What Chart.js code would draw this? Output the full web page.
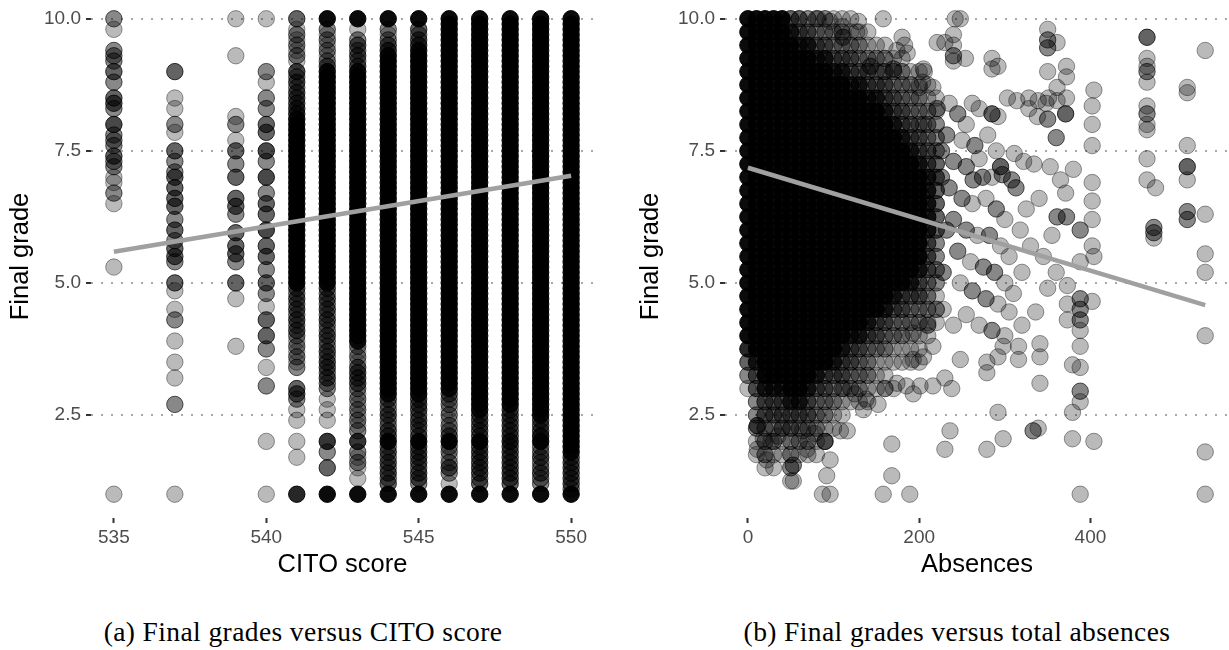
<!DOCTYPE html>
<html>
<head>
<meta charset="utf-8">
<script src="https://cdn.jsdelivr.net/npm/chart.js@4.4.1/dist/chart.umd.min.js"></script>
<style>
  html, body { margin:0; padding:0; background:#fff; width:1229px; height:650px; overflow:hidden; }
  .wrap { position:absolute; }
  .cap { position:absolute; top:618px; width:600px; text-align:center; font-family:'Liberation Serif','Times New Roman',serif; font-size:27.5px; letter-spacing:0.4px; line-height:27px; color:#000; white-space:nowrap; }
</style>
</head>
<body>
<div class="wrap" style="left:0px; top:-5px;"><canvas id="chartA" width="594" height="598"></canvas></div>
<div class="wrap" style="left:630px; top:-5px;"><canvas id="chartB" width="599" height="598"></canvas></div>
<div class="cap" style="left:3px;">(a) Final grades versus CITO score</div>
<div class="cap" style="left:657px;">(b) Final grades versus total absences</div>
<script>
// ---------- shared ----------
const yTicks = [2.5, 5, 7.5, 10];
const citoTicks = [535, 540, 545, 550];
const absTicks = [0, 200, 400];
// grade levels (one decimal) used for the dense CITO columns
const gradeFine = [10.0,9.9,9.8,9.7,9.6,9.5,9.4,9.3,9.2,9.1, 9.0,8.9,8.8,8.7,8.6,8.5,8.4,8.3,8.2,8.1,
  8.0,7.9,7.8,7.7,7.6,7.5,7.4,7.3,7.2,7.1, 7.0,6.9,6.8,6.7,6.6,6.5,6.4,6.3,6.2,6.1,
  6.0,5.9,5.8,5.7,5.6,5.5,5.4,5.3,5.2,5.1, 5.0,4.9,4.8,4.7,4.6,4.5,4.4,4.3,4.2,4.1,
  4.0,3.9,3.8,3.7,3.6,3.5,3.4,3.3,3.2,3.1, 3.0,2.9,2.8,2.7,2.6,2.5,2.4,2.3,2.2,2.1,
  2.0,1.9,1.8,1.7,1.6,1.5,1.4,1.3,1.2,1.1, 1.0];
// grade levels (quarter steps) used for the dense absences core
const gradeLevels = [10,9.75,9.5,9.25,9,8.75,8.5,8.25,8,7.75,7.5,7.25,7,6.75,6.5,6.25,6,5.75,5.5,5.25,5,4.75,4.5,4.25,4,3.75,3.5,3.25,3,2.75,2.5,2.25,2,1.75,1.5,1.25,1];

// ---------- (a) CITO score: sparse columns as [grade, number of students] ----------
const cito535 = [[10,2],[9.8,1],[9.4,2],[9.3,2],[9.2,2],[9.0,3],[8.8,2],[8.5,3],[8.4,3],[8.3,2],[8.0,4],[7.8,2],[7.7,2],[7.6,2],[7.4,3],[7.3,2],[7.2,2],[7.0,1],[6.9,1],[6.7,2],[6.5,1],[5.3,1],[1.0,1]];
const cito537 = [[9.0,3],[8.5,1],[8.3,1],[8.0,2],[7.85,1],[7.5,3],[7.3,2],[7.1,2],[7.0,3],[6.8,3],[6.6,3],[6.45,3],[6.2,2],[6.0,3],[5.8,2],[5.65,3],[5.5,3],[5.4,2],[5.0,3],[4.85,1],[4.5,1],[4.3,2],[3.9,1],[3.5,1],[3.2,1],[2.7,2],[1.0,1]];
const cito539 = [[10,1],[9.3,1],[8.15,1],[8.0,2],[7.7,1],[7.5,3],[7.25,2],[7.0,3],[6.6,3],[6.45,3],[6.3,2],[5.95,3],[5.7,3],[5.55,3],[5.4,2],[5.0,3],[4.7,1],[3.8,1]];
const cito540 = [[10,1],[9.0,2],[8.8,1],[8.5,2],[8.3,2],[8.0,3],[7.85,3],[7.5,4],[7.3,2],[7.0,4],[6.7,2],[6.5,3],[6.3,3],[6.0,4],[5.7,3],[5.5,3],[5.25,2],[5.0,3],[4.8,2],[4.55,1],[4.3,3],[4.0,3],[3.75,2],[3.4,1],[3.05,2],[2.0,1],[1.0,1]];
// dense columns: number of students at each of gradeFine
const cito541 = [3,0,1,2,1,2,1,2,1,0, 4,2,3,2,3,3,3,4,4,8, 10,10,10,10,10,10,10,10,10,10, 10,10,10,10,10,10,10,10,10,10, 10,10,10,10,10,10,10,10,10,10,
  10,3,2,3,2,3,2,3,2,3, 2,1,2,1,2,1,2,0,0,0, 3,3,2,0,1,0,1,0,0,0, 1,0,0,1,0,0,0,0,0,0, 6];
const cito542 = [10,0,2,1,2,1,2,1,2,3, 8,10,10,10,10,10,10,10,10,10, 10,10,10,10,10,10,10,10,10,10, 10,10,10,10,10,10,10,10,10,10, 10,10,10,10,10,10,10,10,10,10,
  10,3,2,3,2,3,2,3,2,2, 3,2,2,3,2,3,3,2,3,2, 2,0,1,0,1,0,1,0,0,0, 5,0,2,0,0,3,0,0,0,0, 10];
const cito543 = [10,0,1,0,2,3,2,3,2,3, 8,10,10,10,10,10,10,10,10,10, 10,10,10,10,10,10,10,10,10,10, 10,10,10,10,10,10,10,10,10,10, 10,10,10,10,10,10,10,10,10,10,
  10,10,10,10,10,10,10,10,10,10, 10,8,2,1,2,1,3,3,3,3, 2,1,2,1,2,1,2,1,2,0, 5,0,2,1,2,1,0,1,0,0, 10];
const cito544 = [10,0,2,1,2,3,4,8,10,10, 10,10,10,10,10,10,10,10,10,10, 10,10,10,10,10,10,10,10,10,10, 10,10,10,10,10,10,10,10,10,10, 10,10,10,10,10,10,10,10,10,10,
  10,10,10,10,10,10,10,10,10,10, 10,10,10,10,10,10,10,10,10,10, 10,8,3,2,2,3,2,2,3,3, 10,2,3,2,3,2,3,2,3,0, 10];
const cito545 = [10,0,3,2,3,4,8,10,10,10, 10,10,10,10,10,10,10,10,10,10, 10,10,10,10,10,10,10,10,10,10, 10,10,10,10,10,10,10,10,10,10, 10,10,10,10,10,10,10,10,10,10,
  10,10,10,10,10,10,10,10,10,10, 10,10,10,10,10,10,10,10,10,10, 10,8,3,3,3,2,3,3,2,3, 10,3,3,3,3,2,3,3,2,0, 10];
const cito546 = [10,10,10,10,10,10,10,10,10,10, 10,10,10,10,10,10,10,10,10,10, 10,10,10,10,10,10,10,10,10,10, 10,10,10,10,10,10,10,10,10,10, 10,10,10,10,10,10,10,10,10,10,
  10,10,10,10,10,10,10,10,10,10, 10,10,10,10,10,10,10,10,10,10, 8,3,2,2,1,2,1,2,2,3, 10,2,2,1,2,3,2,0,1,0, 10];
const cito547 = [10,10,10,10,10,10,10,10,10,10, 10,10,10,10,10,10,10,10,10,10, 10,10,10,10,10,10,10,10,10,10, 10,10,10,10,10,10,10,10,10,10, 10,10,10,10,10,10,10,10,10,10,
  10,10,10,10,10,10,10,10,10,10, 10,10,10,10,10,10,10,10,10,10, 10,10,10,10,8,3,3,3,3,3, 10,3,3,3,3,3,3,2,3,0, 10];
const cito548 = [10,10,10,10,10,10,10,10,10,10, 10,10,10,10,10,10,10,10,10,10, 10,10,10,10,10,10,10,10,10,10, 10,10,10,10,10,10,10,10,10,10, 10,10,10,10,10,10,10,10,10,10,
  10,10,10,10,10,10,10,10,10,10, 10,10,10,10,10,10,10,10,10,10, 10,10,10,8,3,3,3,3,3,3, 5,3,3,3,3,3,3,3,3,0, 10];
const cito549 = [10,10,10,10,10,10,10,10,10,10, 10,10,10,10,10,10,10,10,10,10, 10,10,10,10,10,10,10,10,10,10, 10,10,10,10,10,10,10,10,10,10, 10,10,10,10,10,10,10,10,10,10,
  10,10,10,10,10,10,10,10,10,10, 10,10,10,10,10,10,10,10,10,10, 10,10,10,10,10,8,3,3,3,5, 10,2,2,3,2,2,3,2,2,0, 10];
const cito550 = [10,10,10,10,10,10,10,10,10,10, 10,10,10,10,10,10,10,10,10,10, 10,10,10,10,10,10,10,10,10,10, 10,10,10,10,10,10,10,10,10,10, 10,10,10,10,10,10,10,10,10,10,
  10,10,10,10,10,10,10,10,10,10, 10,10,10,10,10,10,10,10,10,10, 10,10,10,10,10,10,10,10,10,10, 10,10,8,3,3,3,3,3,3,2, 10];
const citoFitX = [535, 550];
const citoFitY = [5.59, 7.03];

// ---------- (b) Absences ----------
// dense core: number of students at each of gradeLevels, per absences value
const blob0   = [10,10,10,10,10,10,10,10,10,10, 10,10,10,10,10,10,10,10,10,10, 10,10,10,10,10,6,3,2,1,0, 0,0,0,0,0,0,0];
const blob10  = [10,10,10,10,10,10,10,10,10,10, 10,10,10,10,10,10,10,10,10,10, 10,10,10,10,10,10,6,3,3,2, 2,2,1,1,0,0,0];
const blob20  = [10,10,10,10,10,10,10,10,10,10, 10,10,10,10,10,10,10,10,10,10, 10,10,10,10,10,10,10,10,6,3, 3,2,2,2,1,0,0];
const blob30  = [10,10,10,10,10,10,10,10,10,10, 10,10,10,10,10,10,10,10,10,10, 10,10,10,10,10,10,10,10,6,3, 3,2,2,1,1,0,0];
const blob40  = [10,10,10,10,10,10,10,10,10,10, 10,10,10,10,10,10,10,10,10,10, 10,10,10,10,10,10,10,10,6,3, 3,3,1,1,0,0,0];
const blob50  = [3,6,10,10,10,10,10,10,10,10, 10,10,10,10,10,10,10,10,10,10, 10,10,10,10,10,10,10,10,10,6, 3,3,2,2,2,1,0];
const blob60  = [3,3,6,10,10,10,10,10,10,10, 10,10,10,10,10,10,10,10,10,10, 10,10,10,10,10,10,10,10,10,6, 3,2,2,1,0,0,0];
const blob70  = [2,3,6,10,10,10,10,10,10,10, 10,10,10,10,10,10,10,10,10,10, 10,10,10,10,10,10,10,10,6,3, 3,2,2,1,0,0,0];
const blob80  = [2,2,3,6,10,10,10,10,10,10, 10,10,10,10,10,10,10,10,10,10, 10,10,10,10,10,10,10,6,3,2, 2,2,1,1,0,0,0];
const blob90  = [2,2,3,6,10,10,10,10,10,10, 10,10,10,10,10,10,10,10,10,10, 10,10,10,10,10,10,10,3,3,2, 2,1,1,0,0,0,0];
const blob100 = [1,2,2,3,6,10,10,10,10,10, 10,10,10,10,10,10,10,10,10,10, 10,10,10,10,10,10,6,3,2,2, 1,1,0,0,0,0,0];
const blob110 = [1,2,2,3,6,10,10,10,10,10, 10,10,10,10,10,10,10,10,10,10, 10,10,10,10,10,6,3,3,2,1, 1,0,0,0,0,0,0];
const blob120 = [1,1,2,3,3,6,10,10,10,10, 10,10,10,10,10,10,10,10,10,10, 10,10,10,10,6,3,3,2,2,1, 0,0,0,0,0,0,0];
const blob130 = [0,1,2,2,3,6,10,10,10,10, 10,10,10,10,10,10,10,10,10,10, 10,10,10,10,6,3,2,2,2,1, 0,0,0,0,0,0,0];
const blob140 = [0,1,1,2,3,3,6,10,10,10, 10,10,10,10,10,10,10,10,10,10, 10,10,10,6,3,2,2,2,1,1, 0,0,0,0,0,0,0];
const blob150 = [0,0,1,2,2,3,6,10,10,10, 10,10,10,10,10,10,10,10,10,10, 10,10,10,3,3,2,1,1,1,0, 0,0,0,0,0,0,0];
const blob160 = [0,0,1,2,2,3,3,6,10,10, 10,10,10,10,10,10,10,10,10,10, 10,10,6,3,2,2,1,1,1,0, 0,0,0,0,0,0,0];
const blob170 = [0,0,0,1,2,2,3,3,6,10, 10,10,10,10,10,10,10,10,10,10, 10,6,3,2,2,1,1,0,1,0, 0,0,0,0,0,0,0];
const blob180 = [0,0,0,1,2,2,2,3,3,6, 10,10,10,10,10,10,10,10,10,10, 10,3,3,2,2,1,1,0,0,0, 0,0,0,0,0,0,0];
const blob190 = [0,0,0,0,1,2,2,2,3,3, 6,10,10,10,10,10,10,10,10,10, 6,3,2,2,1,1,1,0,0,0, 0,0,0,0,0,0,0];
const blob200 = [0,0,0,0,1,1,2,2,2,3, 3,6,10,10,10,10,10,10,10,6, 3,3,2,2,1,1,1,0,0,0, 0,0,0,0,0,0,0];
const blob210 = [0,0,0,0,0,1,1,2,2,2, 3,3,6,6,6,6,6,3,3,3, 2,2,2,1,1,0,0,0,0,0, 0,0,0,0,0,0,0];
const blob220 = [0,0,0,0,0,0,1,1,2,2, 2,3,3,3,3,3,3,2,2,2, 2,1,1,1,0,0,0,0,0,0, 0,0,0,0,0,0,0];
// scattered students: [absences, grade, number of students]
const absOutliers = [
 [82,10,1],[96,9.95,1],[110,9.85,1],[129,9.95,1],[127,9.75,1],[111,9.65,2],[158,10,1],[143,9.1,2],[158,9.0,1],[170,9.05,2],
 [180,9.65,1],[183,9.5,1],[186,9.35,1],[174,9.4,1],[205,9.05,1],[200,8.7,1],[204,8.8,1],[216,8.7,1],[221,9.55,1],[205,8.0,1],
 [242,10,1],[248,10,1],[230,9.55,1],[240,9.7,1],[240,9.5,1],[240,9.3,2],[240,9.2,1],[254,9.25,1],[285,9.25,1],[285,9.05,1],[292,9.1,1],[206,9.0,1],
 [350,9.8,1],[350,9.6,2],[350,9.45,2],[361,9.55,1],[350,9.0,1],[361,8.7,1],[372,9.1,1],[372,8.9,1],[372,8.5,1],[404,8.65,1],[402,8.35,1],[402,8.0,1],[371,8.2,3],
 [466,9.65,3],[466,9.25,1],[466,9.1,1],[466,9.0,2],[466,8.8,1],[466,8.35,1],[466,8.2,2],[466,8.0,1],[466,7.9,1],[534,9.4,1],[513,8.7,1],[513,8.6,1],
 [513,7.6,1],[513,7.2,3],[513,6.95,1],[466,7.35,1],[466,6.95,1],[476,6.8,1],[513,6.35,2],[513,6.2,2],[534,6.3,1],[474,6.05,2],[474,5.95,2],[474,5.85,1],
 [402,7.6,1],[402,6.9,1],[402,6.55,1],[402,6.2,1],[402,5.7,1],
 [303,8.5,1],[314,8.45,1],[328,8.5,1],[339,8.45,1],[351,8.5,1],[361,8.45,1],[328,8.3,1],[338,8.15,1],[350,8.1,2],[348,8.4,1],[360,7.75,2],[285,8.2,3],[292,8.15,1],[221,8.3,2],
 [311,7.45,1],[322,7.3,1],[334,7.25,1],[353,7.2,1],[365,6.95,1],[380,7.15,1],[371,6.7,1],[295,7.2,3],[297,7.05,2],[308,6.95,2],[313,6.8,2],
 [361,6.25,2],[372,6.25,2],[388,6.0,2],[263,6.95,2],[274,7.0,2],
 [388,5.4,1],[404,5.5,1],[534,5.55,1],[534,5.2,1],[534,4.0,1],[534,1.8,1],[534,1.0,1],[388,1.0,1],[379,2.05,1],[404,2.0,1],[379,2.55,1],
 [388,2.95,2],[388,2.75,1],[379,3.45,1],[388,3.4,1],[388,4.7,2],[388,4.5,2],[388,4.3,2],[388,4.1,1],[388,3.8,1],[373,4.95,1],[373,4.6,1],[373,4.3,1],
 [402,4.65,1],[336,4.45,1],[341,3.85,1],[341,3.6,1],[341,3.1,1],[316,3.8,1],[316,3.55,1],[333,2.2,2],[339,2.25,1],[298,2.05,1],[279,1.85,1],
 [292,2.55,1],[236,2.2,1],[230,1.85,1],[216,3.05,1],[230,3.2,1],[238,3.0,1],[248,3.55,1],[279,3.5,1],[279,3.3,1],[292,3.6,1],[298,3.8,1],
 [235,8.4,1],[245,8.2,2],[255,8.0,1],[262,8.4,1],[270,8.3,1],[232,7.8,2],[250,7.7,1],[265,7.6,2],[280,7.8,1],[290,7.5,1],[240,7.3,2],[255,7.2,2],
 [270,7.35,1],[285,7.0,1],[235,6.8,2],[250,6.6,2],[262,6.5,1],[278,6.6,1],[290,6.4,2],[300,6.2,1],[240,6.2,2],[255,6.0,2],[268,5.9,1],[282,5.9,2],
 [295,5.7,1],[305,5.5,1],[245,5.6,2],[260,5.4,1],[275,5.3,2],[288,5.2,2],[300,5.0,1],[248,5.0,1],[262,4.85,2],[278,4.7,2],[292,4.6,1],[305,4.45,1],
 [255,4.4,1],[270,4.2,1],[285,4.1,2],[300,4.0,1],[240,4.2,1],[228,4.5,1],[228,5.2,2],[232,6.0,2],[226,7.0,2],[226,7.5,2],[310,4.8,1],[320,5.2,1],
 [318,6.0,1],[325,6.4,1],[330,5.7,1],[345,5.5,1],[355,5.9,1],[340,6.6,1],[350,4.9,1],[360,5.2,1],[320,4.2,1],
 [168,1.95,1],[168,1.35,1],[158,1.0,1],[189,1.0,1],[87,1.0,1],[96,1.0,1],[53,1.25,1],[53,1.55,2],[90,2.0,3],[22,1.65,1],[11,1.85,1],[18,2.05,1],
 [11,2.3,3],[27,2.0,1],[35,2.1,1],[64,2.2,1],[78,2.15,1],[69,1.85,1],[96,1.65,1],[92,1.35,1],[108,2.2,1],[116,2.2,1],[135,2.6,1],[152,2.7,1],
 [112,3.0,1],[125,2.9,1],[138,2.8,1],[201,3.05,1],[193,2.9,1],[174,3.1,1],[160,3.0,1],[185,3.05,1],[193,3.55,1],[205,3.6,1],[216,3.8,1],[193,4.05,1],[210,4.2,2],[220,4.5,1]
];
const absFitX = [0, 534];
const absFitY = [7.18, 4.58];

// ---------- build points ----------
function pairPts(x, pairs) { return pairs.map(p => ({x: x, y: p[0], n: p[1]})); }
function countPts(x, counts, levels) {
  const out = [];
  counts.forEach((n, i) => { if (n > 0) out.push({x: x, y: levels[i], n: n}); });
  return out;
}
const citoPoints = [].concat(
  pairPts(535, cito535), pairPts(537, cito537), pairPts(539, cito539), pairPts(540, cito540),
  countPts(541, cito541, gradeFine), countPts(542, cito542, gradeFine), countPts(543, cito543, gradeFine),
  countPts(544, cito544, gradeFine), countPts(545, cito545, gradeFine), countPts(546, cito546, gradeFine),
  countPts(547, cito547, gradeFine), countPts(548, cito548, gradeFine), countPts(549, cito549, gradeFine),
  countPts(550, cito550, gradeFine)
);
const blobCols = [[0,blob0],[10,blob10],[20,blob20],[30,blob30],[40,blob40],[50,blob50],[60,blob60],[70,blob70],[80,blob80],[90,blob90],
  [100,blob100],[110,blob110],[120,blob120],[130,blob130],[140,blob140],[150,blob150],[160,blob160],[170,blob170],[180,blob180],
  [190,blob190],[200,blob200],[210,blob210],[220,blob220]];
let absPoints = [];
blobCols.forEach(c => { absPoints = absPoints.concat(countPts(c[0], c[1], gradeLevels)); });
absPoints = absPoints.concat(absOutliers.map(o => ({x: o[0], y: o[1], n: o[2]})));

const FONT = "'Liberation Sans', Arial, Helvetica, sans-serif";

function fill(c) { const n = (c.raw && c.raw.n) || 1; return 'rgba(0,0,0,' + (1 - Math.pow(0.73, n)).toFixed(3) + ')'; }
function edge(c) { const n = (c.raw && c.raw.n) || 1; return 'rgba(0,0,0,' + (1 - Math.pow(0.6, n)).toFixed(3) + ')'; }

function makeChart(id, points, fitX, fitY, xMin, xMax, xTicks, xTitle, yWidth) {
  new Chart(document.getElementById(id), {
    type: 'scatter',
    data: {
      datasets: [
        { type: 'line', data: fitX.map((x, i) => ({x: x, y: fitY[i]})), borderColor: '#a0a0a0', borderWidth: 4.5,
          pointRadius: 0, fill: false, order: 0, borderCapStyle: 'butt' },
        { data: points, order: 1, pointRadius: 8.2, pointHoverRadius: 8.2, borderWidth: 1,
          backgroundColor: fill, borderColor: edge }
      ]
    },
    options: {
      responsive: false, animation: false, devicePixelRatio: 1, events: [],
      layout: { padding: 0, autoPadding: false },
      plugins: { legend: { display: false }, tooltip: { enabled: false } },
      scales: {
        x: {
          type: 'linear', min: xMin, max: xMax,
          afterBuildTicks: s => { s.ticks = xTicks.map(v => ({value: v})); },
          afterFit: s => { s.height = 75; s.paddingLeft = 0; s.paddingRight = 0; },
          grid: { drawOnChartArea: false, drawTicks: true, tickLength: 5, tickWidth: 2, tickColor: '#333', tickBorderDash: [] },
          border: { display: false },
          ticks: { color: '#4d4d4d', font: { family: FONT, size: 19 }, padding: 3, maxRotation: 0, autoSkip: false, callback: v => String(v) },
          title: { display: true, text: xTitle, color: '#000', font: { family: FONT, size: 25.5 }, padding: { top: 0, bottom: 13 } }
        },
        y: {
          type: 'linear', min: 0.55, max: 10.45,
          afterBuildTicks: s => { s.ticks = yTicks.map(v => ({value: v})); },
          afterFit: s => { s.width = yWidth; s.paddingTop = 0; s.paddingBottom = 0; },
          grid: { drawOnChartArea: true, color: '#a8a8a8', lineWidth: 2, drawTicks: true, tickLength: 5, tickWidth: 2, tickColor: '#333', tickBorderDash: [] },
          border: { display: false, dash: [2, 8] },
          ticks: { color: '#4d4d4d', font: { family: FONT, size: 19 }, padding: 5, autoSkip: false, callback: v => Number(v).toFixed(1) },
          title: { display: true, text: 'Final grade', color: '#000', font: { family: FONT, size: 25.5 }, padding: { top: 6, bottom: 0 } }
        }
      }
    }
  });
}

makeChart('chartA', citoPoints, citoFitX, citoFitY, 534.25, 550.75, citoTicks, 'CITO score', 91);
makeChart('chartB', absPoints, absFitX, absFitY, -26.75, 561.75, absTicks, 'Absences', 95);
</script>
</body>
</html>
